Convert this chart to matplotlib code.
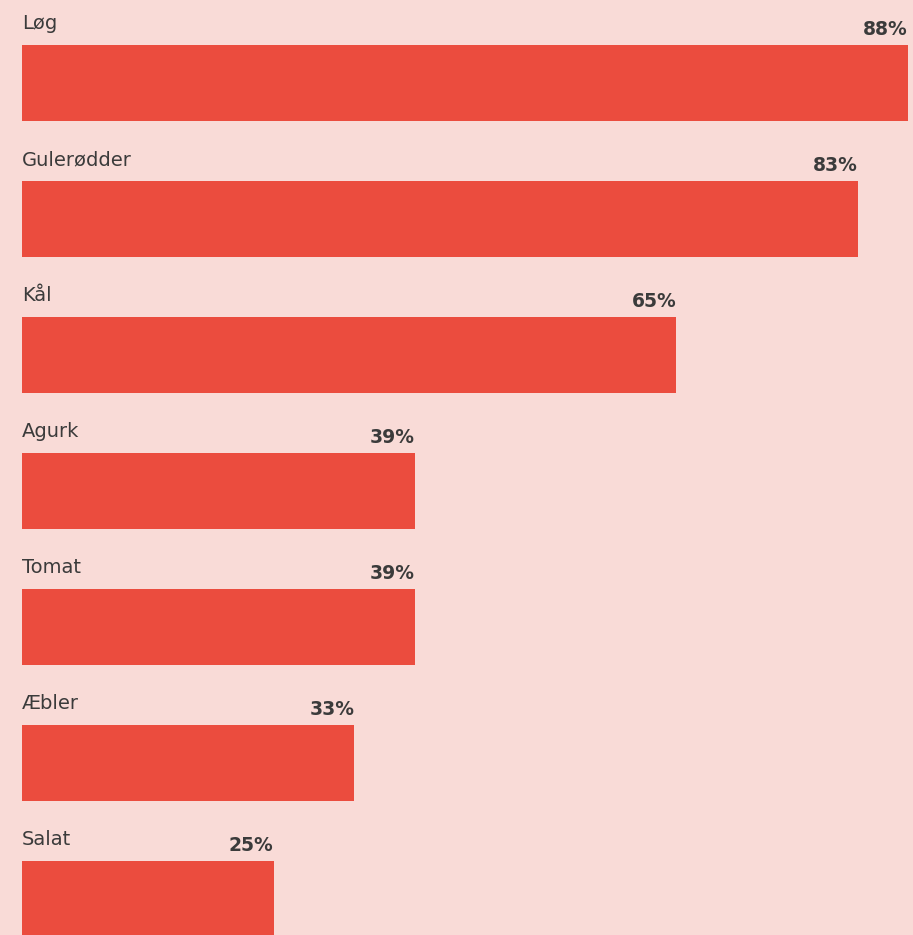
import matplotlib
matplotlib.use("Agg")
import matplotlib.pyplot as plt
from matplotlib.transforms import offset_copy

categories = ["Løg", "Gulerødder", "Kål", "Agurk", "Tomat", "Æbler", "Salat"]
values = [88, 83, 65, 39, 39, 33, 25]
value_labels = ["88%", "83%", "65%", "39%", "39%", "33%", "25%"]

BG = "#F9DBD7"
BAR = "#EB4C3E"
TEXT = "#3B3B3B"

W, H, DPI = 913, 935, 100
fig = plt.figure(figsize=(W / DPI, H / DPI), dpi=DPI, facecolor=BG)
ax = fig.add_axes([0, 0, 1, 1], facecolor=BG)

px_per_unit = 10.068   # horizontal scale
row_px = 136.0         # vertical distance between rows
bar_h = 76.0 / row_px

ypos = list(range(len(categories)))
ax.barh(ypos, values, height=bar_h, left=0, color=BAR, align="center")

ax.set_xlim(-22 / px_per_unit, (W - 22) / px_per_unit)
ax.set_ylim((H - 83) / row_px, -83 / row_px)
ax.axis("off")

for y, cat, v, lab in zip(ypos, categories, values, value_labels):
    top = y - bar_h / 2
    t1 = offset_copy(ax.transData, fig=fig, x=0, y=16, units="dots")
    ax.text(0, top, cat, transform=t1, ha="left", va="baseline",
            fontsize=14, color=TEXT, family=["DejaVu Sans"])
    t2 = offset_copy(ax.transData, fig=fig, x=0, y=10.5, units="dots")
    ax.text(v, top, lab, transform=t2, ha="right", va="baseline",
            fontsize=13.5, fontweight="bold", color=TEXT,
            family=["DejaVu Sans"])

fig.savefig("out.png", dpi=DPI, facecolor=BG)
